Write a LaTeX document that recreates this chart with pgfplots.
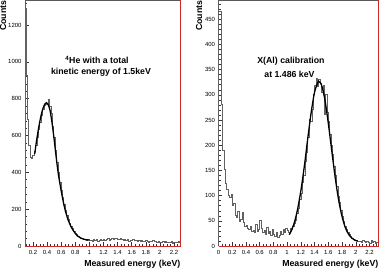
\documentclass[border=0pt]{standalone}
\usepackage{fontspec}
\setmainfont{Liberation Sans}
\usepackage{pgfplots}
\pgfplotsset{compat=1.18}
\definecolor{frameRed}{rgb}{0.80,0.16,0.16}
\definecolor{histGray}{gray}{0.38}
\pgfplotsset{
  rootaxis/.style={
    scale only axis,
    axis line style={draw=none},
    clip=false,
    tick align=inside,
    tick pos=left,
    major tick length=3.5bp,
    minor tick length=2bp,
    every tick/.style={black!80, line width=0.4bp},
    tick label style={font=\fontsize{6}{7}\selectfont},
    xticklabel style={yshift=-0.8bp},
    /pgf/number format/assume math mode=true,
    /pgf/number format/1000 sep={},
  },
  hist/.style={histGray, line width=0.55bp, const plot mark left},
  fit/.style={black, line width=1.3bp, smooth, tension=0.5},
}
\begin{document}
\begin{tikzpicture}[x=1bp,y=1bp]
\useasboundingbox (0,0) rectangle (379,271);
% ---------------- left panel ----------------
\begin{axis}[rootaxis,
  at={(25bp,25bp)}, anchor=south west,
  width=155bp, height=245.5bp,
  xmin=0.087, xmax=2.285, ymin=0, ymax=1333,
  xtick={0.2,0.4,...,2.21},
  xticklabels={0.2,0.4,0.6,0.8,1,1.2,1.4,1.6,1.8,2,2.2},
  minor xtick={0.1,0.15,...,2.26},
  ytick={0,200,...,1200},
  minor ytick={0,40,...,1320},
]
\draw[black!65, line width=0.6bp] (rel axis cs:1,1) -- (rel axis cs:0,1) -- (rel axis cs:0,0);
\addplot[hist] coordinates {
(0.087,0)(0.087,1290)(0.104,925)(0.121,690)(0.137,545)(0.155,480)(0.175,478)
(0.195,495)(0.215,515)(0.235,545)(0.255,590)(0.275,632)(0.295,672)(0.315,710)
(0.335,740)(0.355,762)(0.375,772)(0.395,768)(0.415,795)(0.435,758)(0.455,718)
(0.475,650)(0.495,590)(0.515,518)(0.535,455)(0.555,400)(0.575,345)(0.595,300)
(0.615,262)(0.635,228)(0.655,196)(0.675,168)(0.695,146)(0.715,124)(0.735,108)
(0.755,94)(0.775,82)(0.795,70)(0.815,62)(0.835,54)(0.855,48)(0.875,44)
(0.895,40)(0.915,36)(0.935,38)(0.955,33)(0.975,35)(0.995,30)(1.015,32)
(1.035,28)(1.055,34)(1.075,30)(1.095,36)(1.115,27)(1.135,33)(1.155,38)
(1.175,30)(1.195,34)(1.215,29)(1.235,36)(1.255,40)(1.275,33)(1.295,38)
(1.315,42)(1.335,35)(1.355,40)(1.375,44)(1.395,38)(1.415,36)(1.435,42)
(1.455,35)(1.475,31)(1.495,38)(1.515,30)(1.535,34)(1.555,28)(1.575,33)
(1.595,30)(1.615,36)(1.635,29)(1.655,32)(1.675,27)(1.695,30)(1.715,25)
(1.735,31)(1.755,28)(1.775,24)(1.795,29)(1.815,26)(1.835,22)(1.855,27)
(1.875,24)(1.895,29)(1.915,23)(1.935,26)(1.955,21)(1.975,24)(1.995,22)
(2.015,19)(2.035,23)(2.055,20)(2.075,24)(2.095,18)(2.115,21)(2.135,19)
(2.155,23)(2.175,17)(2.195,20)(2.215,18)(2.235,22)(2.255,28)(2.275,20)(2.285,20)
};
\addplot[fit] coordinates {
(0.225,500)(0.25,570)(0.28,640)(0.31,700)(0.34,745)(0.37,772)(0.39,778)
(0.41,772)(0.44,740)(0.47,670)(0.50,580)(0.53,480)(0.56,390)(0.60,300)
(0.63,240)(0.66,190)(0.70,140)(0.74,105)(0.77,85)(0.80,68)(0.83,55)
(0.87,45)(0.91,38)(0.95,34)(1.00,32)
};
\draw[frameRed, line width=0.6bp] (rel axis cs:0,0) -- (rel axis cs:1,0) -- (rel axis cs:1,1);
\end{axis}
% ---------------- right panel ----------------
\begin{axis}[rootaxis,
  at={(218.5bp,25bp)}, anchor=south west,
  width=159.5bp, height=245.5bp,
  xmin=0, xmax=2.325, ymin=0, ymax=487,
  xtick={0,0.2,...,2.21},
  xticklabels={0,0.2,0.4,0.6,0.8,1,1.2,1.4,1.6,1.8,2,2.2},
  minor xtick={0,0.05,...,2.31},
  ytick={0,50,...,450},
  minor ytick={0,10,...,480},
]
\draw[black!65, line width=0.6bp] (rel axis cs:1,1) -- (rel axis cs:0,1) -- (rel axis cs:0,0);
\addplot[hist] coordinates {
(0,0)(0,466)(0.04,282)(0.06,190)(0.08,152)(0.10,124)(0.12,112)(0.14,100)
(0.16,96)(0.18,102)(0.20,80)(0.22,84)(0.24,60)(0.26,56)(0.28,68)(0.30,50)
(0.32,54)(0.34,66)(0.36,48)(0.38,40)(0.40,42)(0.42,36)(0.44,34)(0.46,40)
(0.48,30)(0.50,32)(0.52,28)(0.54,44)(0.56,30)(0.58,34)(0.60,52)(0.62,36)
(0.64,28)(0.66,32)(0.68,24)(0.70,38)(0.72,26)(0.74,30)(0.76,22)(0.78,34)
(0.80,24)(0.82,20)(0.84,28)(0.86,18)(0.88,22)(0.90,30)(0.92,24)(0.94,34)
(0.96,28)(0.98,36)(1.00,32)(1.02,28)(1.04,36)(1.06,33)(1.08,40)(1.10,46)
(1.12,52)(1.14,64)(1.16,74)(1.18,92)(1.20,105)(1.22,126)(1.24,140)(1.26,168)
(1.28,186)(1.30,215)(1.32,252)(1.34,248)(1.36,272)(1.38,300)(1.40,318)
(1.42,332)(1.44,316)(1.46,330)(1.48,322)(1.50,305)(1.52,318)(1.54,262)
(1.56,300)(1.58,265)(1.60,248)(1.62,222)(1.64,200)(1.66,182)(1.68,158)
(1.70,140)(1.72,118)(1.74,98)(1.76,86)(1.78,70)(1.80,58)(1.82,50)(1.84,40)
(1.86,34)(1.88,28)(1.90,24)(1.92,20)(1.94,16)(1.96,14)(1.98,12)(2.00,11)
(2.02,10)(2.04,9)(2.06,10)(2.08,8)(2.10,11)(2.12,9)(2.14,7)(2.16,10)
(2.18,8)(2.20,6)(2.22,12)(2.24,7)(2.26,9)(2.28,6)(2.30,8)(2.325,8)
};
\addplot[fit] coordinates {
(1.03,22.5)(1.05,27)(1.10,44)(1.15,71)(1.20,109)(1.25,157)(1.30,212)
(1.35,264)(1.40,305)(1.45,325)(1.465,326)(1.50,320)(1.55,291)(1.60,244)
(1.65,190)(1.70,137)(1.75,92)(1.80,59)(1.85,36)(1.90,22.5)(1.95,15)
(2.00,11)(2.03,9.7)
};
\draw[frameRed, line width=0.6bp] (rel axis cs:0,0) -- (rel axis cs:1,0) -- (rel axis cs:1,1);
\end{axis}
% ---------------- labels ----------------
\tikzset{lab/.style={font=\fontsize{8.8}{10}\selectfont\bfseries, inner sep=0pt}}
\node[lab, anchor=base east] at (180.5,4.4) {Measured energy (keV)};
\node[lab, anchor=base east] at (378.5,4.4) {Measured energy (keV)};
\node[lab, rotate=90, anchor=south east] at (6.5,270.7) {Counts};
\node[lab, rotate=90, anchor=south east] at (202.5,270.7) {Counts};
\node[lab] at (97,211) {\textsuperscript{4}He with a total};
\node[lab] at (101,199) {kinetic energy of 1.5keV};
\node[lab] at (291,210) {X(Al) calibration};
\node[lab] at (289.5,197) {at 1.486 keV};
\end{tikzpicture}
\end{document}
